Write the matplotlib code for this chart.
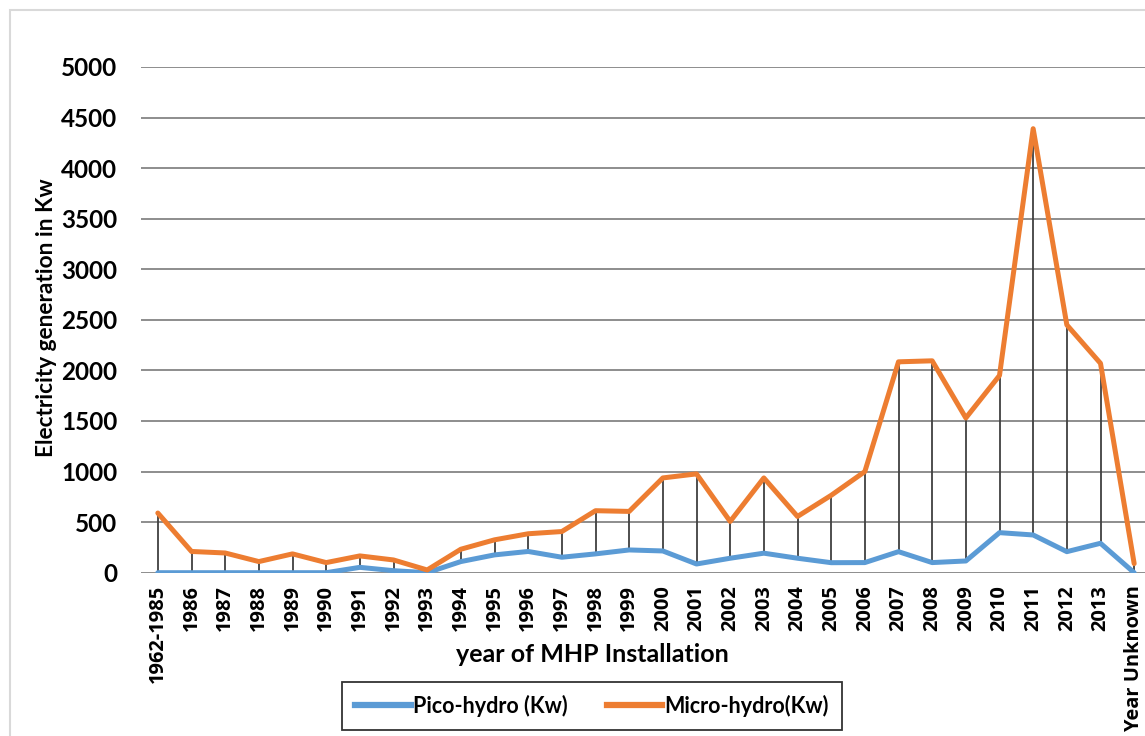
import matplotlib.pyplot as plt
from matplotlib.patches import Rectangle
from matplotlib.lines import Line2D

# Categories (installation year) and generation values in Kw
years = ['1962-1985', '1986', '1987', '1988', '1989', '1990', '1991', '1992', '1993',
         '1994', '1995', '1996', '1997', '1998', '1999', '2000', '2001', '2002', '2003',
         '2004', '2005', '2006', '2007', '2008', '2009', '2010', '2011', '2012', '2013',
         'Year Unknown']
pico_hydro = [0, 0, 0, 0, 0, 0, 53, 20, 0, 110, 176, 210, 153, 186, 225, 215, 86, 143,
              193, 143, 99, 100, 208, 100, 116, 396, 373, 208, 291, 0]
micro_hydro = [590, 210, 195, 110, 186, 100, 166, 126, 27, 232, 325, 385, 407, 613, 606,
               937, 977, 507, 937, 556, 765, 1000, 2085, 2095, 1530, 1950, 4390, 2450,
               2070, 90]

blue = '#5B9BD5'
orange = '#ED7D31'

fig = plt.figure(figsize=(11.45, 7.36), dpi=100)

# light chart border (cropped on the right and bottom)
fig.patches.append(Rectangle((10 / 1145, -0.1), 1.2, 1 - 10 / 736 + 0.1,
                             transform=fig.transFigure, fill=False,
                             edgecolor='#d9d9d9', lw=1.5))

ax = fig.add_axes([141 / 1145, 1 - 572.7 / 736, 1010 / 1145, 505.7 / 736])

x = list(range(len(years)))

# high-low lines between the two series
ax.vlines(x, pico_hydro, micro_hydro, color='#404040', lw=1.3, zorder=2)
ax.plot(x, pico_hydro, color=blue, lw=3.6, solid_capstyle='round', zorder=3)
ax.plot(x, micro_hydro, color=orange, lw=3.6, solid_capstyle='round', zorder=4)

ax.set_xlim(-0.5, len(years) - 0.5)
ax.set_ylim(0, 5000)
ax.set_yticks(range(0, 5001, 500))
ax.yaxis.grid(True, color='#6f6f6f', lw=1.1)
ax.set_axisbelow(True)
for s in ax.spines.values():
    s.set_visible(False)
ax.tick_params(axis='both', length=0)
ax.tick_params(axis='y', pad=17)
ax.tick_params(axis='x', pad=9)

ax.set_xticks(x)
ax.set_xticklabels(years, rotation=90, fontsize=14.4, fontweight='bold',
                   family='Open Sans', va='top')
for lab in ax.get_yticklabels():
    lab.set_fontfamily('Lato')
    lab.set_fontweight('bold')
    lab.set_fontsize(17.5)

fig.text(47 / 1145, 1 - 318 / 736, 'Electricity generation in Kw', rotation=90,
         ha='center', va='center', fontsize=16.3, fontweight='bold', family='Lato')
fig.text(592 / 1145, 1 - 655 / 736, 'year of MHP Installation',
         ha='center', va='center', fontsize=18, fontweight='bold', family='Lato')

handles = [Line2D([], [], color=blue, lw=4.5), Line2D([], [], color=orange, lw=4.5)]
leg = fig.legend(handles, ['Pico-hydro (Kw)', 'Micro-hydro(Kw)'], loc='center',
                 bbox_to_anchor=(592 / 1145, 1 - 706 / 736), ncol=2, frameon=True,
                 fancybox=False, edgecolor='black', handlelength=2.6, handletextpad=0.1,
                 columnspacing=1.8, borderpad=0.6, borderaxespad=0,
                 prop={'family': 'Lato', 'weight': 'bold', 'size': 15.5})
leg.get_frame().set_linewidth(1.3)

plt.savefig('out.png', dpi=100)
plt.close()
